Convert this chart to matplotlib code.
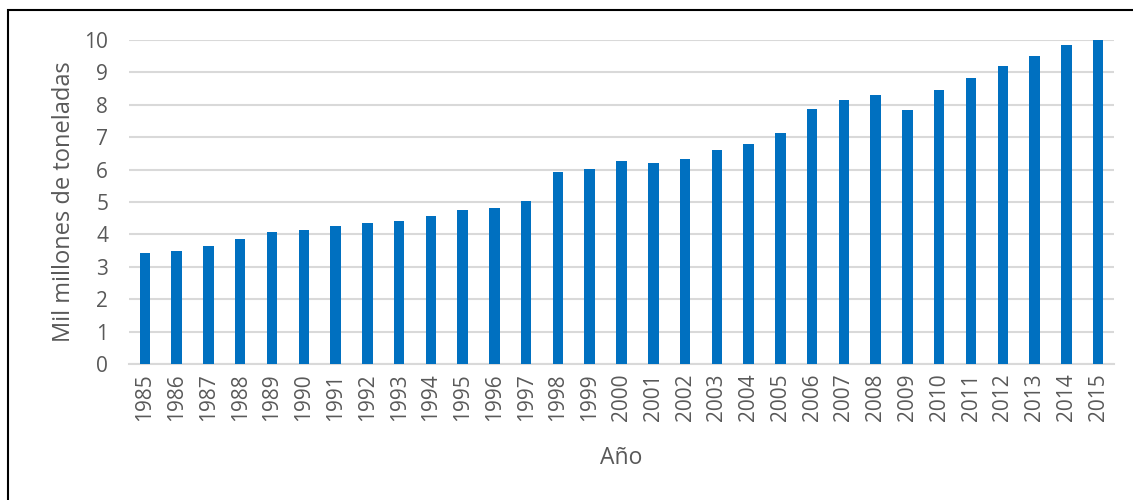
import numpy as np
import matplotlib.pyplot as plt
from matplotlib.patches import Rectangle

years = [str(y) for y in range(1985, 2016)]
valores = [3.43, 3.48, 3.64, 3.87, 4.06, 4.13, 4.25, 4.34, 4.41, 4.57,
           4.75, 4.82, 5.03, 5.93, 6.01, 6.26, 6.19, 6.34, 6.60, 6.79,
           7.13, 7.88, 8.15, 8.29, 7.84, 8.46, 8.82, 9.20, 9.51, 9.85, 10.03]

plt.rcParams['font.family'] = ['Open Sans', 'DejaVu Sans']
gris = '#595959'

fig = plt.figure(figsize=(11.33, 5.0), dpi=100)
ax = fig.add_axes([129/1133, 1-364/500, (1114-129)/1133, (364-40)/500])

x = np.arange(len(years))
ax.bar(x, valores, width=0.33, color='#0070C0', zorder=3)

ax.set_xlim(-0.5, len(years) - 0.5)
ax.set_ylim(0, 10)
ax.set_yticks(range(0, 11))
ax.set_xticks(x)
ax.set_xticklabels(years, rotation=90)
ax.grid(axis='y', color='#D9D9D9', linewidth=1.5, zorder=0)
for s in ['top', 'right', 'left']:
    ax.spines[s].set_visible(False)
ax.spines['bottom'].set_color('#D9D9D9')
ax.spines['bottom'].set_linewidth(1.5)
ax.tick_params(axis='both', length=0, labelsize=15, colors=gris, pad=7)
ax.tick_params(axis='y', pad=15)

ax.set_xlabel('Año', fontsize=16.5, color=gris, labelpad=18)
ax.set_ylabel('Mil millones de toneladas', fontsize=17, color=gris, labelpad=6)

# marco exterior
fig.patches.append(Rectangle((8/1133, -0.1), 1.2, (500-10)/500 + 0.1,
                             transform=fig.transFigure, fill=False,
                             edgecolor='black', linewidth=1.5))

fig.savefig('out.png', dpi=100)
